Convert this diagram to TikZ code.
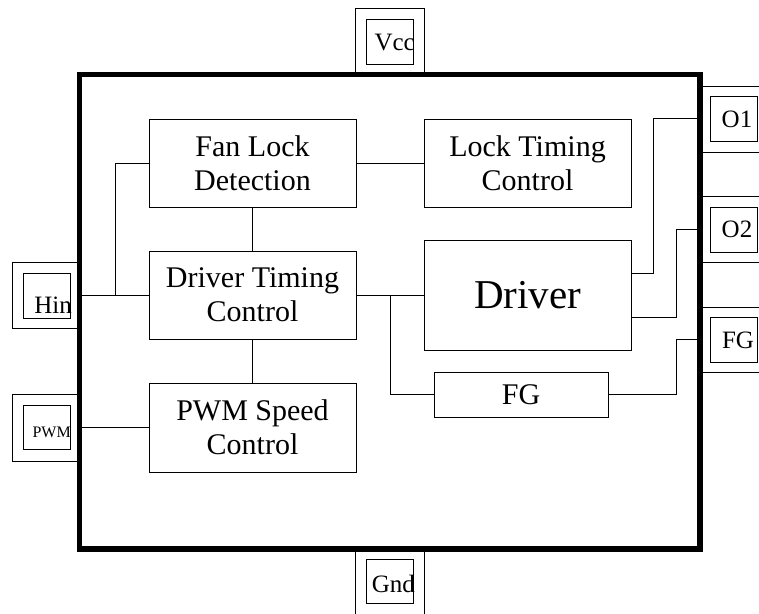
\documentclass[tikz,border=0pt]{standalone}
\usepackage{fontspec}
\setmainfont{Liberation Serif}
\usepackage{tikz}
\usetikzlibrary{positioning}
\usetikzlibrary{calc}

\tikzset{
	block/.style={draw, rectangle, line width=1pt, inner sep=0pt,
		minimum width=207pt, minimum height=88pt, align=center,
		font=\fontsize{30}{34}\selectfont},
	pinout/.style={draw, rectangle, line width=1pt, inner sep=0pt},
	pinin/.style={draw, rectangle, line width=1pt, inner sep=0pt,
		minimum width=47pt, minimum height=45pt},
	pinlabel/.style={inner sep=0pt, font=\fontsize{25}{27}\selectfont},
	wire/.style={line width=1pt},
}

\begin{document}
\begin{tikzpicture}[x=1pt,y=-1pt]
	\useasboundingbox (0,0) rectangle (759,613);

	% Chip
	% ----
	\node[draw, rectangle, line width=3.5pt, inner sep=0pt,
		  minimum width=619pt, minimum height=473pt]
		  (chip) at (389.5,311.5) {};

	% Pins
	% ----
	\node[pinout, minimum width=69pt, minimum height=67pt] (VccOut) at (389.5,41.5) {};
	\node[pinin] (VccIn) at (390,41.5) {};
	\node[pinlabel, anchor=base east] (VccLbl) at (415,50) {Vcc};

	\node[pinout, minimum width=68pt, minimum height=66pt] (HinOut) at (46,295) {};
	\node[pinin] (HinIn) at (46.5,295.5) {};
	\node[pinlabel, anchor=base east] (HinLbl) at (72,313) {Hin};

	\node[pinout, minimum width=68pt, minimum height=67pt] (PWMOut) at (46,427.5) {};
	\node[pinin, minimum height=44pt] (PWMIn) at (46.5,427) {};
	\node[pinlabel, anchor=base east, font=\fontsize{16}{18}\selectfont] (PWMLbl) at (71,437) {PWM};

	\node[pinout, minimum width=69pt, minimum height=84pt] (GndOut) at (389.5,590) {};
	\node[pinin, minimum height=44pt] (GndIn) at (390,581) {};
	\node[pinlabel, anchor=base east] (GndLbl) at (415,592) {Gnd};

	\node[pinout, minimum width=91pt, minimum height=66pt] (O1Out) at (744.5,119) {};
	\node[pinin] (O1In) at (733.5,119) {};
	\node[pinlabel, anchor=base] (O1Lbl) at (737,127) {O1};

	\node[pinout, minimum width=91pt, minimum height=66pt] (O2Out) at (744.5,229) {};
	\node[pinin] (O2In) at (733.5,229.5) {};
	\node[pinlabel, anchor=base] (O2Lbl) at (737,237) {O2};

	\node[pinout, minimum width=91pt, minimum height=65pt] (FGOut) at (744.5,339.5) {};
	\node[pinin] (FGIn) at (733.5,339.5) {};
	\node[pinlabel, anchor=base] (FGLbl) at (738,348) {FG};

	% Blocks
	% ------
	\node[block] (FLD) at (252.5,163) {Fan Lock\\Detection};
	\node[block] (LTC) at (527.5,163) {Lock Timing\\Control};
	\node[block] (DTC) at (252.5,295) {Driver Timing\\Control};
	\node[block, minimum height=110pt, font=\fontsize{41}{44}\selectfont]
		  (Driver) at (527.5,295) {Driver};
	\node[block, minimum height=89pt] (PWM) at (252.5,427.5) {PWM Speed\\Control};
	\node[block, minimum width=174pt, minimum height=45pt] (FGblk) at (521,394.5) {FG};

	% osszekottetesek
	\coordinate (hinsplit) at (115,295);
	\coordinate (dtcsplit) at (390,295);
	\draw[wire] (HinOut.east) -- (DTC.west);
	\draw[wire] (hinsplit) |- (FLD.west);
	\draw[wire] (PWMOut.east) -- (PWM.west);
	\draw[wire] (FLD.east) -- (LTC.west);
	\draw[wire] (FLD.south) -- (DTC.north);
	\draw[wire] (DTC.south) -- (PWM.north);
	\draw[wire] (DTC.east) -- (Driver.west);
	\draw[wire] (dtcsplit) |- (FGblk.west);
	\draw[wire] ([yshift=22pt]Driver.east) -- +(22,0) |- ([yshift=1pt]O1Out.west);
	\draw[wire] ([yshift=-22pt]Driver.east) -- +(45,0) |- (O2Out.west);
	\draw[wire] (FGblk.east) -- +(68,0) |- (FGOut.west);

	% chip keret felul
	\draw[line width=3.5pt] (chip.north west) rectangle (chip.south east);
\end{tikzpicture}
\end{document}
